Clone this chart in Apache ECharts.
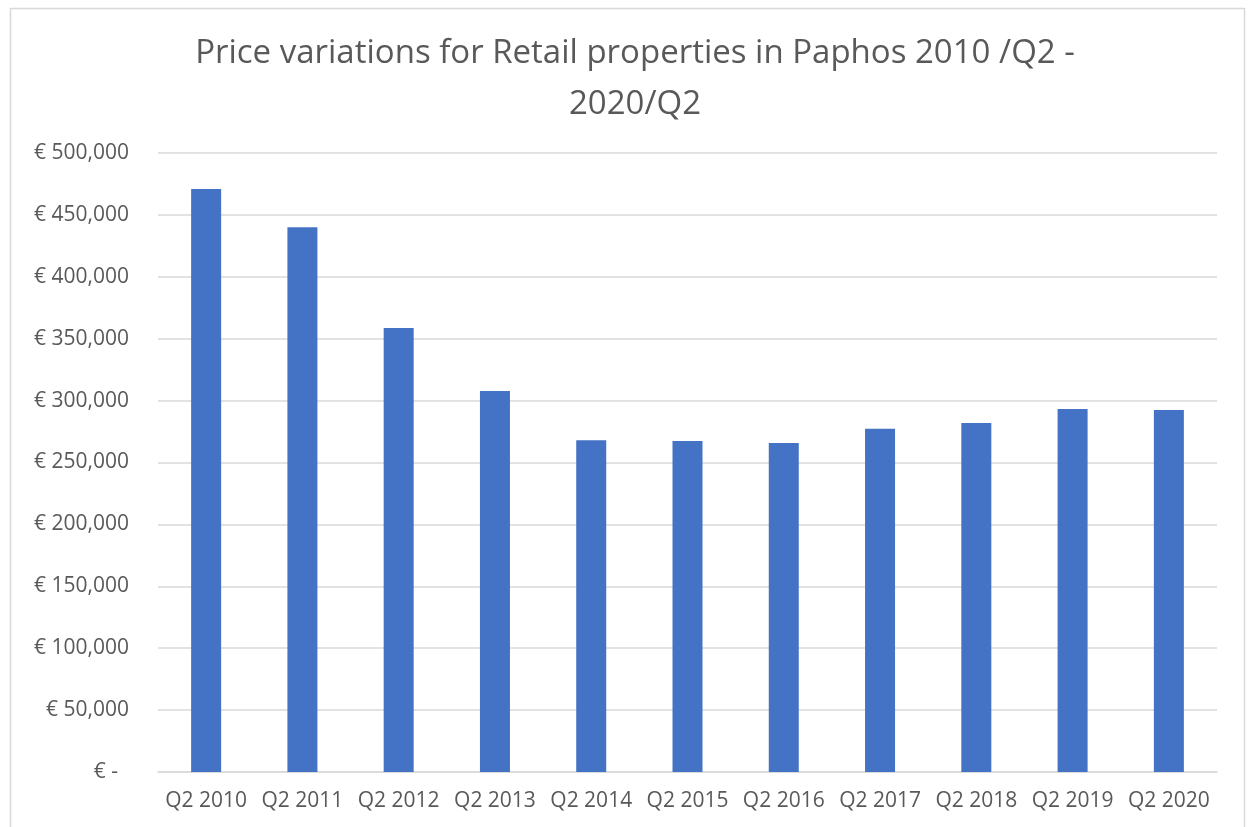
<!DOCTYPE html>
<html>
<head>
<meta charset="utf-8">
<script src="https://cdn.jsdelivr.net/npm/echarts@6/dist/echarts.min.js"></script>
<style>
  html, body { margin: 0; padding: 0; background: #fff; }
  #chart { width: 1253px; height: 827px; }
</style>
</head>
<body>
<div id="chart"></div>
<script>
// quarters on the x axis
const quarters = ['Q2 2010', 'Q2 2011', 'Q2 2012', 'Q2 2013', 'Q2 2014', 'Q2 2015',
                  'Q2 2016', 'Q2 2017', 'Q2 2018', 'Q2 2019', 'Q2 2020'];
// average price (EUR)
const prices = [470900, 440000, 358600, 307800, 267900, 267400,
                265800, 277300, 281900, 293200, 292400];

const titleText = 'Price variations for Retail properties in Paphos 2010 /Q2 -\n2020/Q2';
const textColor = '#595959';
const fontFam = '"Open Sans", "Noto Sans", sans-serif';

function euro(v) {
  if (v === 0) return '€ -  ';
  return '€ ' + v.toString().replace(/\B(?=(\d{3})+(?!\d))/g, ',');
}

const chart = echarts.init(document.getElementById('chart'), null, { renderer: 'canvas' });

const option = {
  backgroundColor: '#fff',
  animation: false,
  title: {
    text: titleText,
    left: 630,
    textAlign: 'center',
    top: 23,
    textStyle: {
      color: textColor,
      fontFamily: fontFam,
      fontWeight: 'normal',
      fontSize: 33,
      lineHeight: 51
    }
  },
  graphic: [{
    type: 'rect',
    shape: { x: 10.5, y: 8.5, width: 1234, height: 830 },
    style: { fill: 'none', stroke: '#d9d9d9', lineWidth: 1.5 },
    silent: true,
    z: -1
  }],
  grid: {
    left: 158,
    right: 36,
    top: 153,
    bottom: 55,
    containLabel: false
  },
  xAxis: {
    type: 'category',
    data: quarters,
    axisLine: { show: true, lineStyle: { color: '#d9d9d9', width: 1.5 } },
    axisTick: { show: false },
    axisLabel: {
      color: textColor,
      fontFamily: fontFam,
      fontSize: 21,
      margin: 19,
      interval: 0
    }
  },
  yAxis: {
    type: 'value',
    min: 0,
    max: 500000,
    interval: 50000,
    axisLine: { show: false },
    axisTick: { show: false },
    splitLine: { lineStyle: { color: '#d9d9d9', width: 1.5 } },
    axisLabel: {
      color: textColor,
      fontFamily: fontFam,
      fontSize: 21,
      margin: 29,
      formatter: euro
    }
  },
  series: [{
    type: 'bar',
    data: prices,
    barWidth: 30,
    itemStyle: { color: '#4472c4' }
  }]
};

chart.setOption(option);
</script>
</body>
</html>
